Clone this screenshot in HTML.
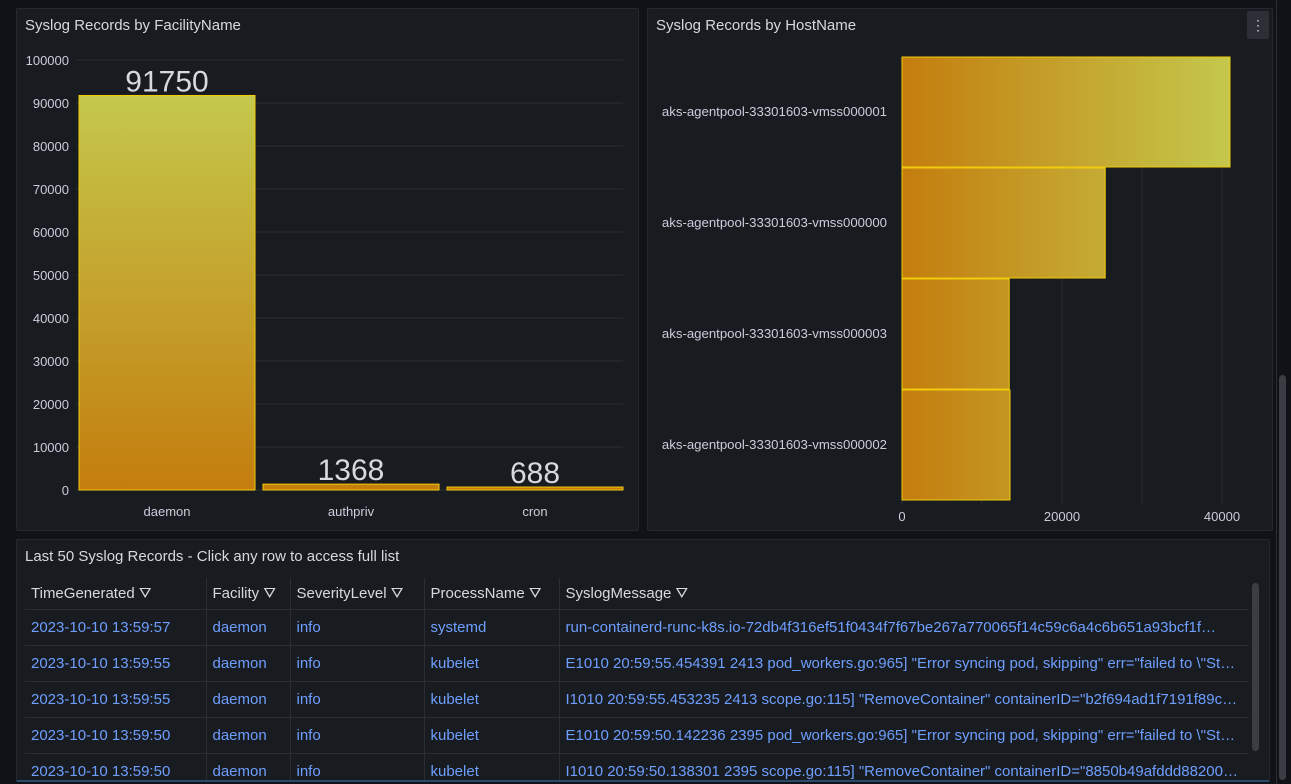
<!DOCTYPE html>
<html><head><meta charset="utf-8"><style>
body{margin:0;width:1291px;height:784px;background:#111217;font-family:"Liberation Sans",sans-serif;overflow:hidden;position:relative;color:#ccccdc}
.panel{position:absolute;background:#181b1f;border:1px solid #25282e;border-radius:2px}
.title{position:absolute;left:8px;top:8px;font-size:15px;color:#d8d9e0}
svg text{font-family:"Liberation Sans",sans-serif}
table{border-collapse:collapse;position:absolute;left:8px;top:38px;font-size:15px;table-layout:fixed}
td,th{height:35px;border-bottom:1px solid #2a2d33;border-right:1px solid #2a2d33;padding:0 6px;text-align:left;white-space:nowrap;overflow:hidden}
th{font-weight:normal;color:#d8d9e0;height:31px}
td{color:#6e9fff}
td:last-child,th:last-child{border-right:none}
</style></head><body>
<div class="panel" style="left:16px;top:8px;width:621px;height:521px">
<div class="title">Syslog Records by FacilityName</div></div>
<div class="panel" style="left:647px;top:8px;width:624px;height:521px">
<div class="title">Syslog Records by HostName</div>
<div style="position:absolute;right:3px;top:2px;width:22px;height:28px;background:#2c3036;border-radius:2px;color:#ccc;text-align:center;line-height:28px;font-size:14px">⋮</div></div>
<svg id="charts" width="1291" height="540" style="position:absolute;left:0;top:0">
<defs>
<linearGradient id="gv" gradientUnits="userSpaceOnUse" x1="0" y1="490" x2="0" y2="96"><stop offset="0" stop-color="#c47d0e"/><stop offset="1" stop-color="#c4c84c"/></linearGradient>
<linearGradient id="gh" gradientUnits="userSpaceOnUse" x1="902" y1="0" x2="1230" y2="0"><stop offset="0" stop-color="#c47d0e"/><stop offset="1" stop-color="#c4c84c"/></linearGradient>
</defs>
<g id="left"></g><g id="right"></g>
</svg>
<div class="panel" style="left:16px;top:539px;width:1252px;height:240px;overflow:hidden;border-bottom:2px solid #2b4a6b">
<div class="title">Last 50 Syslog Records - Click any row to access full list</div>
<table>
<colgroup><col style="width:181px"><col style="width:84px"><col style="width:134px"><col style="width:135px"><col style="width:690px"></colgroup>
<tr><th>TimeGenerated ⛛</th><th>Facility ⛛</th><th>SeverityLevel ⛛</th><th>ProcessName ⛛</th><th>SyslogMessage ⛛</th></tr>
<tr><td>2023-10-10 13:59:57</td><td>daemon</td><td>info</td><td>systemd</td><td>run-containerd-runc-k8s.io-72db4f316ef51f0434f7f67be267a770065f14c59c6a4c6b651a93bcf1f…</td></tr>
<tr><td>2023-10-10 13:59:55</td><td>daemon</td><td>info</td><td>kubelet</td><td>E1010 20:59:55.454391 2413 pod_workers.go:965] "Error syncing pod, skipping" err="failed to \"St…</td></tr>
<tr><td>2023-10-10 13:59:55</td><td>daemon</td><td>info</td><td>kubelet</td><td>I1010 20:59:55.453235 2413 scope.go:115] "RemoveContainer" containerID="b2f694ad1f7191f89c…</td></tr>
<tr><td>2023-10-10 13:59:50</td><td>daemon</td><td>info</td><td>kubelet</td><td>E1010 20:59:50.142236 2395 pod_workers.go:965] "Error syncing pod, skipping" err="failed to \"St…</td></tr>
<tr><td>2023-10-10 13:59:50</td><td>daemon</td><td>info</td><td>kubelet</td><td>I1010 20:59:50.138301 2395 scope.go:115] "RemoveContainer" containerID="8850b49afddd88200…</td></tr>
</table>
<div style="position:absolute;left:1235px;top:43px;width:7px;height:168px;background:#3a3d44;border-radius:4px"></div>
</div>
<div style="position:absolute;left:1279px;top:375px;width:7px;height:405px;background:#3a3d44;border-radius:4px"></div>
<div style="position:absolute;left:1276px;top:0;width:1px;height:784px;background:#2a2d33"></div>
<script>
const facilities=["daemon","authpriv","cron"];
const facilityCounts=[91750,1368,688];
const yTicks=[0,10000,20000,30000,40000,50000,60000,70000,80000,90000,100000];
const hosts=["aks-agentpool-33301603-vmss000001","aks-agentpool-33301603-vmss000000","aks-agentpool-33301603-vmss000003","aks-agentpool-33301603-vmss000002"];
const hostCounts=[41000,25400,13400,13500];
const xTicks=[0,20000,40000];
const xGrid=[0,10000,20000,30000,40000];
const NS="http://www.w3.org/2000/svg";
function mk(p,t,a){const e=document.createElementNS(NS,t);for(const k in a)e.setAttribute(k,a[k]);p.appendChild(e);return e;}
const L=document.getElementById('left'),R=document.getElementById('right');
const y=v=>490-v*430/100000;
yTicks.forEach(t=>{
 const g=mk(L,'line',{x1:76,x2:623,y1:y(t),y2:y(t),stroke:'#2a2d33'});
 
 const tx=mk(L,'text',{x:69,y:y(t)+5,'text-anchor':'end','font-size':13,fill:'#ccccdc'});tx.textContent=t;
 
});
const bw=176,step=184,x0=79;
facilities.forEach((f,i)=>{
 const x=x0+i*step,h=490-y(facilityCounts[i]);
 const r=mk(L,'rect',{x:x,y:y(facilityCounts[i]),width:bw,height:Math.max(h,1),fill:'url(#gv)',stroke:'#f2cc0c','stroke-width':1});
 
 const v=mk(L,'text',{x:x+bw/2,y:y(facilityCounts[i])-4,'text-anchor':'middle','font-size':30,fill:'#d8d9e0'});v.textContent=facilityCounts[i];
 
 const c=mk(L,'text',{x:x+bw/2,y:516,'text-anchor':'middle','font-size':13,fill:'#ccccdc'});c.textContent=f;
 
});
const hx=v=>902+v*8/1000;
xGrid.forEach(t=>{const g=mk(R,'line',{x1:hx(t),x2:hx(t),y1:56,y2:505,stroke:'#2a2d33'});
 });
xTicks.forEach(t=>{const tx=mk(R,'text',{x:hx(t),y:521,'text-anchor':'middle','font-size':13,fill:'#ccccdc'});tx.textContent=t;
 });
const bh=110,top0=57;
hosts.forEach((h,i)=>{
 const yy=top0+i*111;
 const r=mk(R,'rect',{x:902,y:yy,width:hx(hostCounts[i])-902,height:bh,fill:'url(#gh)',stroke:'#f2cc0c','stroke-width':1});
 
 const t=mk(R,'text',{x:887,y:yy+bh/2+4,'text-anchor':'end','font-size':13.2,fill:'#ccccdc'});t.textContent=h;
 
});
</script>
</body></html>
